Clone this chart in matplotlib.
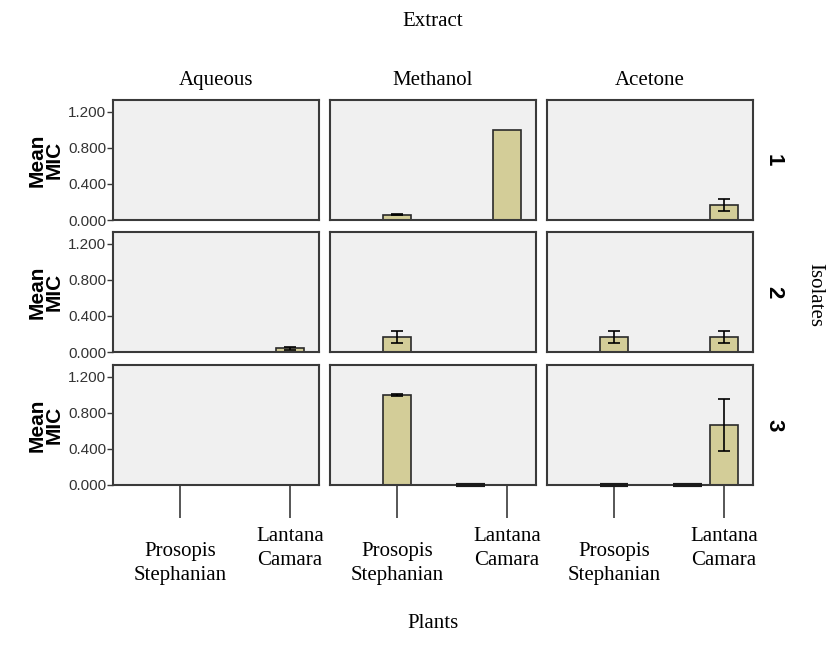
import numpy as np
import matplotlib
matplotlib.use("Agg")
import matplotlib.pyplot as plt

# categories
extracts = ['Aqueous', 'Methanol', 'Acetone']
isolates = ['1', '2', '3']
plants = ['Prosopis\nStephanian', 'Lantana\nCamara']
plant_ticks = [0, 1]
label_drop = [41, 30]  # points below the axis; the original staggers the two labels

# bar slots inside each panel: Prosopis, (empty middle cluster), Lantana
bar_x = [0, 0.67, 1]

nan = np.nan
# mean MIC per isolate (row), extract (column), slot
mean_mic = [
    [[nan, nan, nan], [0.06, nan, 1.0], [nan, nan, 0.167]],
    [[nan, nan, 0.04], [0.167, nan, nan], [0.167, nan, 0.167]],
    [[nan, nan, nan], [1.0, 0.0, nan], [0.0, 0.0, 0.667]],
]
err_mic = [
    [[nan, nan, nan], [0.008, nan, 0.0], [nan, nan, 0.067]],
    [[nan, nan, 0.015], [0.067, nan, nan], [0.067, nan, 0.067]],
    [[nan, nan, nan], [0.01, 0.0, nan], [0.0, 0.0, 0.29]],
]
yticks = [0.0, 0.4, 0.8, 1.2]

serif = 'Liberation Serif'
sans = ['Liberation Sans Narrow', 'Liberation Sans']

fig = plt.figure(figsize=(8.26, 6.64), dpi=100)
W, H = 826.0, 664.0
col_left = [113, 330, 547]
row_top = [100, 232, 365]
ax_w, ax_h = 206, 120
bw = 0.26

bar_color = '#d3cd98'
edge = '#2a2a2a'

for r in range(3):
    for c in range(3):
        ax = fig.add_axes([col_left[c] / W, 1 - (row_top[r] + ax_h) / H, ax_w / W, ax_h / H])
        ax.set_facecolor('#f0f0f0')
        ax.set_xlim(-0.609, 1.264)
        ax.set_ylim(0, 1.33)
        for k in range(3):
            m = mean_mic[r][c][k]
            if np.isnan(m):
                continue
            if m == 0:
                # zero-height bar shows only as a flat dark edge
                ax.plot([bar_x[k] - bw / 2, bar_x[k] + bw / 2], [m, m], color='#1a1a1a',
                        linewidth=3, clip_on=False, zorder=5, solid_capstyle='butt')
                continue
            ax.bar(bar_x[k], m, width=bw, color=bar_color, edgecolor=edge, linewidth=1.2, zorder=2)
            e = err_mic[r][c][k]
            if e > 0:
                ax.errorbar(bar_x[k], m, yerr=e, color='black', capsize=4, elinewidth=1.2,
                            capthick=1.2, zorder=3)
        for s in ax.spines.values():
            s.set_color('#3a3a3a')
            s.set_linewidth(1.5)
        if c == 0:
            ax.set_yticks(yticks)
            ax.set_yticklabels(['%.3f' % v for v in yticks], family=sans, fontsize=11, color='#333333')
            ax.tick_params(axis='y', length=4, width=1, color='#3a3a3a', pad=1)
            ax.set_ylabel('Mean\nMIC', family=sans, fontweight='bold', fontsize=15, labelpad=3,
                          linespacing=0.85)
        else:
            ax.set_yticks([])
        if r == 2:
            ax.set_xticks(plant_ticks)
            ax.set_xticklabels([])
            ax.tick_params(axis='x', length=24, width=1.2, color='#3a3a3a')
            for xt, lab, d in zip(plant_ticks, plants, label_drop):
                ax.annotate(lab, xy=(xt, 0), xycoords=('data', 'axes fraction'),
                            xytext=(0, -d), textcoords='offset points', ha='center', va='top',
                            family=serif, fontsize=15, linespacing=1.35, annotation_clip=False)
        else:
            ax.set_xticks([])
        if r == 0:
            ax.set_title(extracts[c], family=serif, fontsize=15, pad=11)
        if c == 2:
            ax.text(1.1, 0.5, isolates[r], transform=ax.transAxes, rotation=-90,
                    ha='center', va='center', family=sans, fontweight='bold', fontsize=16)

fig.text(433 / W, 1 - 22 / H, 'Extract', ha='center', va='center', family=serif, fontsize=15)
fig.text(433 / W, 1 - 624 / H, 'Plants', ha='center', va='center', family=serif, fontsize=15)
fig.text(815 / W, 1 - 295 / H, 'Isolates', ha='center', va='center', rotation=-90,
         family=serif, fontsize=15)

fig.savefig('out.png', dpi=100, facecolor='white')
